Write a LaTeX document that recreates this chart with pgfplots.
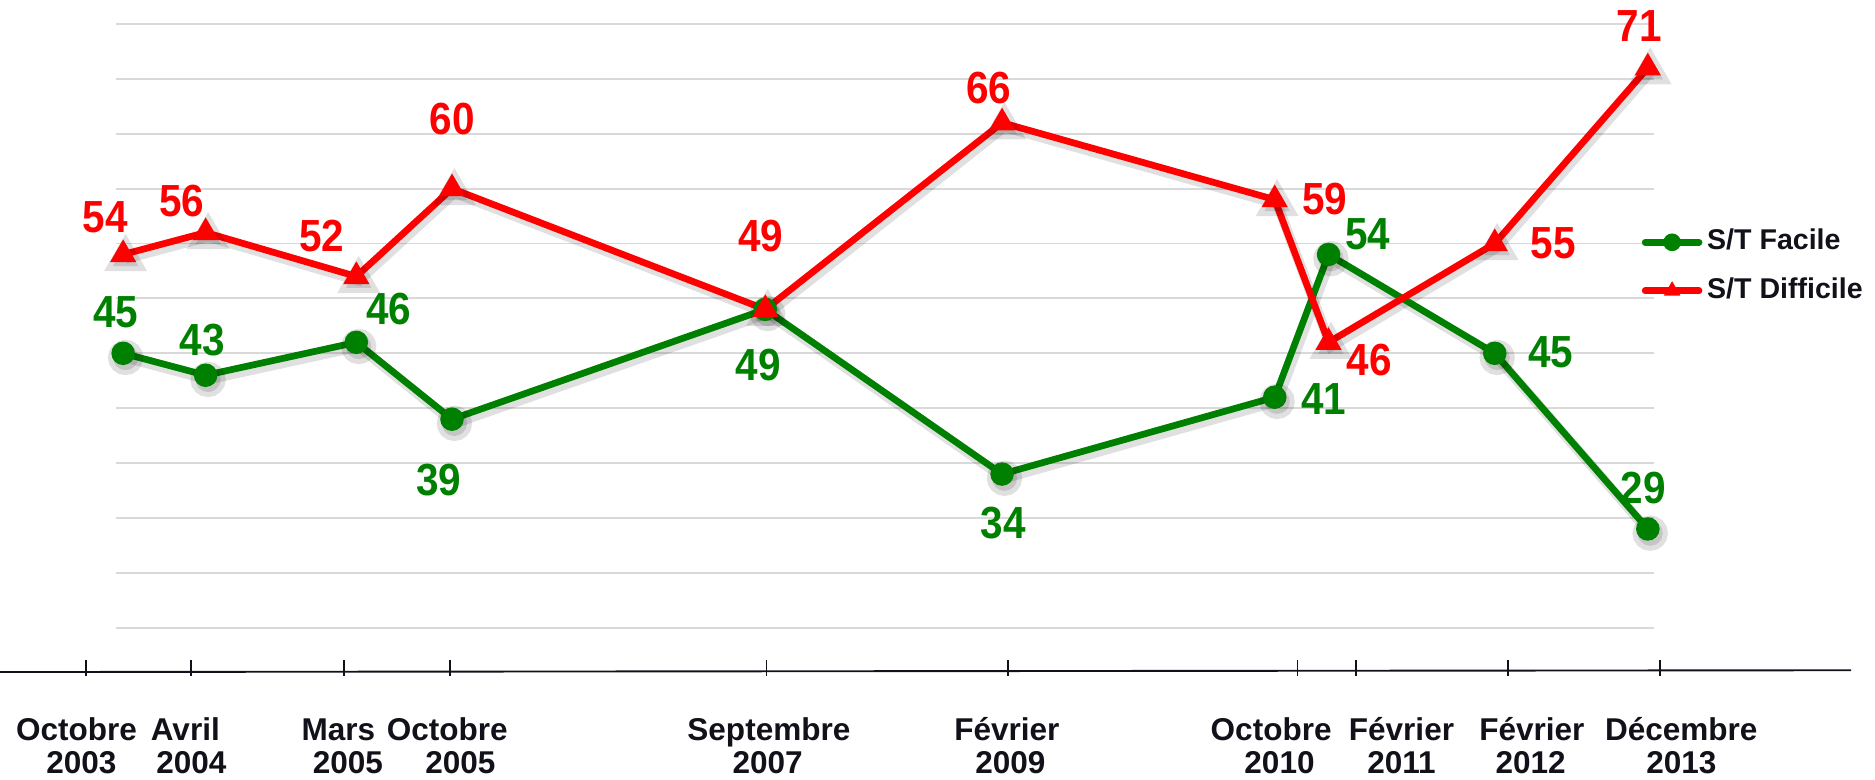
\documentclass[border=0pt]{standalone}
\usepackage{pgfplots}
\pgfplotsset{compat=1.18}
\usepackage{pgfplotstable}
\usepackage{fontspec}
\setmainfont{Liberation Sans}
\newfontfamily\labfont{Liberation Sans}[FakeStretch=0.9]
\definecolor{sgreen}{RGB}{0,128,0}
\definecolor{sred}{RGB}{255,0,0}
\definecolor{txt}{RGB}{17,17,26}
\definecolor{gridc}{RGB}{217,217,217}

\pgfplotstableread{
x y
103 45
172 43
298 46
378 39
640 49
838 34
1066 41
1111 54
1250 45
1378 29
}\facile
\pgfplotstableread{
x y
103 54
172 56
298 52
378 60
640 49
838 66
1066 59
1111 46
1250 55
1378 71
}\difficile

\begin{document}
\begin{tikzpicture}[
  lbl/.style={font=\labfont\bfseries\fontsize{10.7}{12}\selectfont, inner sep=0pt},
  tlab/.style={font=\bfseries\fontsize{7.5}{9}\selectfont, text=txt, inner sep=0pt, anchor=base}]
\useasboundingbox (0,0) rectangle (15.68,6.52);
\begin{axis}[
  scale only axis, width=12.86cm, height=5.05cm,
  at={(0.97cm,1.27cm)}, anchor=south west,
  xmin=97, xmax=1383, ymin=20, ymax=75,
  clip=false,
  axis line style={draw=none},
  xtick=\empty, ytick={20,25,...,75}, yticklabels={}, major tick length=0pt,
  ymajorgrids, grid style={line width=0.45pt, color=gridc},
  legend cell align=left,
  legend style={at={(axis cs:1373,52.9)}, anchor=west, draw=none, fill=none,
    inner sep=0pt, outer sep=0pt, row sep=0.18cm, column sep=0.04cm,
    font=\bfseries\fontsize{6.8}{6.8}\selectfont, text=txt,
    nodes={inner sep=0pt}},
  legend image code/.code={
    \draw[line width=1.6pt, line cap=round, mark size=1.9pt, mark repeat=2, mark phase=2]
      plot coordinates {(0cm,0cm) (0.225cm,0cm) (0.45cm,0cm)};},
]
% shadows
\addplot[forget plot, draw=black, opacity=0.12, line width=2.4pt, mark=*, mark size=3pt,
  mark options={fill=black}, xshift=0.02cm, yshift=-0.035cm] table {\facile};
\addplot[forget plot, draw=black, opacity=0.12, line width=2.4pt, mark=triangle*, mark size=3.5pt,
  mark options={fill=black}, xshift=0.02cm, yshift=-0.035cm] table {\difficile};
% series
\addplot[sgreen, line width=1.6pt, mark=*, mark size=2.6pt, mark options={line width=0.4pt, fill=sgreen}] table {\facile};
\addlegendentry{S/T Facile}
\addplot[sred, line width=1.6pt, mark=triangle*, mark size=3.2pt, mark options={line width=0.4pt, fill=sred}] table {\difficile};
\addlegendentry{S/T Difficile}
% data labels (red)
\node[lbl, text=sred] at (axis cs:88,57.39) {54};
\node[lbl, text=sred] at (axis cs:152,58.91) {56};
\node[lbl, text=sred] at (axis cs:269,55.65) {52};
\node[lbl, text=sred] at (axis cs:378,66.30) {60};
\node[lbl, text=sred] at (axis cs:636,55.65) {49};
\node[lbl, text=sred] at (axis cs:827,69.13) {66};
\node[lbl, text=sred] at (axis cs:1108,59.02) {59};
\node[lbl, text=sred] at (axis cs:1145,44.35) {46};
\node[lbl, text=sred] at (axis cs:1299,55.0) {55};
\node[lbl, text=sred] at (axis cs:1371,74.78) {71};
% data labels (green)
\node[lbl, text=sgreen] at (axis cs:97,48.70) {45};
\node[lbl, text=sgreen] at (axis cs:169,46.20) {43};
\node[lbl, text=sgreen] at (axis cs:325,49.02) {46};
\node[lbl, text=sgreen] at (axis cs:367,33.48) {39};
\node[lbl, text=sgreen] at (axis cs:634,43.91) {49};
\node[lbl, text=sgreen] at (axis cs:839,29.57) {34};
\node[lbl, text=sgreen] at (axis cs:1107,40.87) {41};
\node[lbl, text=sgreen] at (axis cs:1144,55.87) {54};
\node[lbl, text=sgreen] at (axis cs:1297,45.11) {45};
\node[lbl, text=sgreen] at (axis cs:1374,32.72) {29};
\end{axis}
% bottom time axis
\draw[line width=0.45pt, color=txt] (0,0.90) -- (15.48,0.915);
\foreach \t in {0.72,1.60,2.88,3.76,6.41,8.43,10.85,11.34,12.61,13.88}
  \draw[line width=0.45pt, color=txt] (\t,0.87) -- (\t,1.00);
\node[tlab] at (0.64,0.33) {Octobre};   \node[tlab] at (0.68,0.055) {2003};
\node[tlab] at (1.55,0.33) {Avril};     \node[tlab] at (1.60,0.055) {2004};
\node[tlab] at (2.83,0.33) {Mars};      \node[tlab] at (2.91,0.055) {2005};
\node[tlab] at (3.74,0.33) {Octobre};   \node[tlab] at (3.85,0.055) {2005};
\node[tlab] at (6.43,0.33) {Septembre}; \node[tlab] at (6.42,0.055) {2007};
\node[tlab] at (8.42,0.33) {Février};   \node[tlab] at (8.45,0.055) {2009};
\node[tlab] at (10.63,0.33) {Octobre};  \node[tlab] at (10.70,0.055) {2010};
\node[tlab] at (11.72,0.33) {Février};  \node[tlab] at (11.72,0.055) {2011};
\node[tlab] at (12.81,0.33) {Février};  \node[tlab] at (12.80,0.055) {2012};
\node[tlab] at (14.06,0.33) {Décembre}; \node[tlab] at (14.06,0.055) {2013};
\end{tikzpicture}
\end{document}
